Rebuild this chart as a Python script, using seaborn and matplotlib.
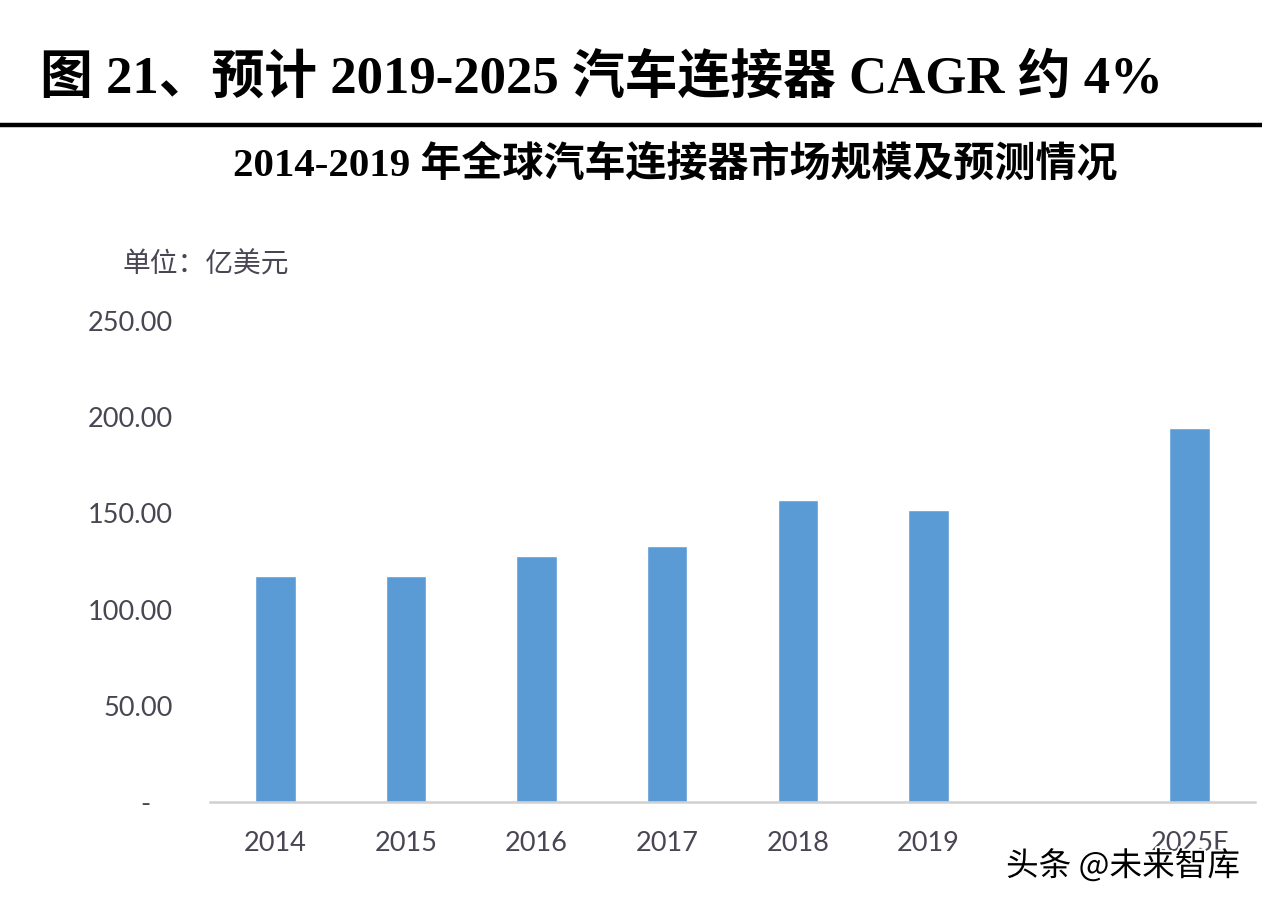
import matplotlib
matplotlib.use("Agg")
import matplotlib.pyplot as plt
import seaborn as sns
import pandas as pd
import matplotlib.patheffects as pe

years = ["2014", "2015", "2016", "2017", "2018", "2019", "2025E"]
values = [117.5, 117.5, 127.9, 133.1, 157.0, 151.8, 194.4]
order = ["2014", "2015", "2016", "2017", "2018", "2019", " ", "2025E"]
yticks = [0, 50, 100, 150, 200, 250]
ytick_labels = ["-   ", "50.00", "100.00", "150.00", "200.00", "250.00"]

title = "图 21、预计 2019-2025 汽车连接器 CAGR 约 4%"
subtitle = "2014-2019 年全球汽车连接器市场规模及预测情况"
unit = "单位：亿美元"
watermark = "头条 @未来智库"

sns.set_style("white")
plt.rcParams["font.family"] = ["Lato", "Noto Sans CJK SC", "DejaVu Sans"]

df = pd.DataFrame({"year": years, "value": values})

W, H = 1262, 908
fig = plt.figure(figsize=(W / 100, H / 100), dpi=100)
fig.patch.set_facecolor("white")

ax = fig.add_axes([210 / W, (H - 802) / H, (1255 - 210) / W, (802 - 321) / H])
sns.barplot(data=df, x="year", y="value", order=order, color="#5B9BD5",
            width=0.31, saturation=1, ax=ax)
ax.set_ylim(0, 250)
ax.set_xlim(-0.5, len(order) - 0.5)
ax.set_yticks(yticks)
ax.set_yticklabels(ytick_labels)
ax.set_xlabel("")
ax.set_ylabel("")
for s in ["top", "right", "left"]:
    ax.spines[s].set_visible(False)
ax.spines["bottom"].set_color("#D0D0D0")
ax.spines["bottom"].set_linewidth(1.8)
ax.tick_params(axis="both", length=0, labelsize=19.5, colors="#4a4552")
ax.tick_params(axis="x", pad=21)
ax.tick_params(axis="y", pad=27)

# Title block
fig.text(40 / W, 1 - 78 / H, title, fontsize=38, fontweight="bold",
         family=["Liberation Serif", "Noto Sans CJK SC"], color="black",
         ha="left", va="center")
fig.add_artist(plt.Line2D([0, 1], [1 - 125 / H, 1 - 125 / H], color="black",
                          linewidth=3.2, transform=fig.transFigure))
fig.text(675 / W, 1 - 165 / H, subtitle, fontsize=29.5, fontweight="bold",
         family=["Liberation Serif", "Noto Sans CJK SC"], color="black",
         ha="center", va="center")
fig.text(122 / W, 1 - 265 / H, unit, fontsize=20,
         family=["Noto Sans CJK SC"], color="#4a4552", ha="left", va="center")
fig.text(1240 / W, 1 - 866 / H, watermark, fontsize=23.5,
         family=["Noto Sans CJK SC"], color="black", ha="right", va="center",
         zorder=10,
         path_effects=[pe.withStroke(linewidth=3, foreground="white")])

fig.savefig("out.png", dpi=100, facecolor="white")
